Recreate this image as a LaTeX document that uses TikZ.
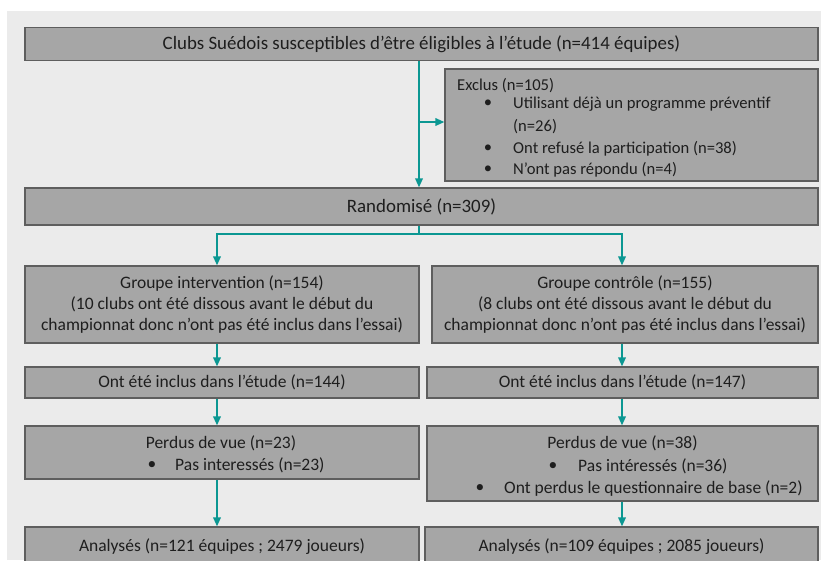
\documentclass[tikz,border=0pt]{standalone}
\usepackage{fontspec}
\setmainfont{Carlito}
\usetikzlibrary{arrows.meta}
\definecolor{bgcol}{HTML}{EBEBEB}
\definecolor{boxfill}{HTML}{A6A6A6}
\definecolor{boxline}{HTML}{5E5E5E}
\definecolor{arrowteal}{HTML}{0B9792}
\definecolor{txt}{HTML}{1E1E1E}
\newcommand\diagfont{\fontsize{17.5}{21.2}\selectfont}
\newcommand\bigdiagfont{\fontsize{18.9}{22}\selectfont}
\newcommand\smalldiagfont{\fontsize{16.6}{20}\selectfont}
\begin{document}
\begin{tikzpicture}[x=1pt,y=-1pt,
 box/.style={draw=boxline, fill=boxfill, line width=1.2pt, inner sep=0pt, text=txt, font=\diagfont, align=center},
 lbl/.style={inner sep=0pt, text=txt, font=\diagfont, anchor=west},
 clbl/.style={inner sep=0pt, text=txt, font=\diagfont},
 arr/.style={draw=arrowteal, line width=1.8pt, -{Triangle[length=9pt,width=7.5pt]}},
 ln/.style={draw=arrowteal, line width=1.8pt}]
\clip (0,0) rectangle (821,560);
\fill[white] (0,0) rectangle (821,560);
\fill[bgcol] (7,11) rectangle (821,560);

\node[box, font=\bigdiagfont, minimum width=793pt, minimum height=33pt] (top) at (421.5,44) {Clubs Suédois susceptibles d’être éligibles à l’étude (n=414 équipes)};

\node[box, minimum width=373pt, minimum height=112pt] (excl) at (631.5,125) {};
\node[lbl, font=\smalldiagfont] (ex0) at (457,86) {Exclus (n=105)};
\node[clbl, font=\smalldiagfont] (exb1) at (488,104) {\textbullet};
\node[lbl, font=\smalldiagfont] (ex1) at (513,104) {Utilisant déjà un programme préventif};
\node[lbl, font=\smalldiagfont] (ex1b) at (513,127) {(n=26)};
\node[clbl, font=\smalldiagfont] (exb2) at (488,149) {\textbullet};
\node[lbl, font=\smalldiagfont] (ex2) at (513,149) {Ont refusé la participation (n=38)};
\node[clbl, font=\smalldiagfont] (exb3) at (488,170) {\textbullet};
\node[lbl, font=\smalldiagfont] (ex3) at (513,170) {N’ont pas répondu (n=4)};

\node[box, font=\bigdiagfont, minimum width=793pt, minimum height=37pt] (rand) at (421.5,206.5) {Randomisé (n=309)};

\node[box, minimum width=394pt, minimum height=77pt] (grpL) at (222,304.5) {Groupe intervention (n=154)\\(10 clubs ont été dissous avant le début du\\championnat donc n’ont pas été inclus dans l’essai)};
\node[box, minimum width=386pt, minimum height=77pt] (grpR) at (625,304.5) {Groupe contrôle (n=155)\\(8 clubs ont été dissous avant le début du\\championnat donc n’ont pas été inclus dans l’essai)};

\node[box, minimum width=394pt, minimum height=31pt] (inclL) at (222,382.5) {Ont été inclus dans l’étude (n=144)};
\node[box, minimum width=391pt, minimum height=31pt] (inclR) at (622.5,382.5) {Ont été inclus dans l’étude (n=147)};

\node[box, minimum width=394pt, minimum height=53pt] (perdL) at (222,452.5) {};
\node[clbl] (pl0) at (221,443) {Perdus de vue (n=23)};
\node[clbl] (plb1) at (152,465) {\textbullet};
\node[lbl] (pl1) at (175,465) {Pas interessés (n=23)};

\node[box, minimum width=391pt, minimum height=75pt] (perdR) at (622.5,463.5) {};
\node[clbl] (pr0) at (622.5,443) {Perdus de vue (n=38)};
\node[clbl] (prb1) at (553,466) {\textbullet};
\node[lbl] (pr1) at (578,466) {Pas intéressés (n=36)};
\node[clbl] (prb2) at (480,488) {\textbullet};
\node[lbl] (pr2) at (504,488) {Ont perdus le questionnaire de base (n=2)};

\node[box, minimum width=394pt, minimum height=39pt] (analL) at (222,546.5) {Analysés (n=121 équipes ; 2479 joueurs)};
\node[box, minimum width=393pt, minimum height=39pt] (analR) at (621.5,546.5) {Analysés (n=109 équipes ; 2085 joueurs)};

\coordinate (vx) at (419,122);
\draw[arr] (top.south -| vx) -- (rand.north -| vx);
\draw[arr] (vx) -- (vx -| excl.west);
\coordinate (bj) at (419,234);
\coordinate (lx) at (217,234);
\coordinate (rx) at (622,234);
\draw[ln] (rand.south -| bj) -- (bj);
\draw[arr] (bj) -- (lx) -- (grpL.north -| lx);
\draw[arr] (bj) -- (rx) -- (grpR.north -| rx);
\draw[arr] (grpL.south -| lx) -- (inclL.north -| lx);
\draw[arr] (grpR.south -| rx) -- (inclR.north -| rx);
\draw[arr] (inclL.south -| lx) -- (perdL.north -| lx);
\draw[arr] (inclR.south -| rx) -- (perdR.north -| rx);
\draw[arr] (perdL.south -| lx) -- (analL.north -| lx);
\draw[arr] (perdR.south -| rx) -- (analR.north -| rx);
\end{tikzpicture}
\end{document}
